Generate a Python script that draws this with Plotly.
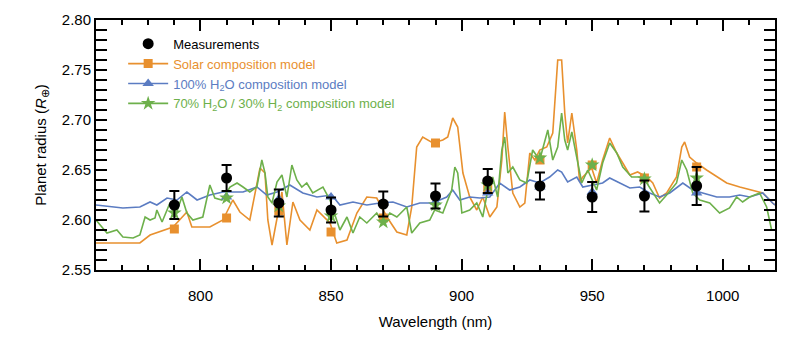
import plotly.graph_objects as go

# ---------------- data ----------------
solar_wl = [760.0, 776.8, 780.7, 789.5, 794.8, 796.7, 803.6, 808.6, 812.4, 815.1, 818.9, 822.8, 824.7,
            825.8, 827.4, 829.3, 831.2, 833.1, 835.4, 838.1, 841.9, 844.6, 849.6, 852.2, 856.1, 859.9,
            863.7, 867.5, 871.4, 875.2, 879.0, 880.9, 882.8, 885.1, 889.0, 892.8, 894.7, 896.6, 898.5,
            900.5, 903.1, 905.8, 908.1, 910.8, 913.5, 915.4, 916.5, 917.7, 919.6, 922.3, 924.2, 926.1,
            928.0, 929.9, 932.6, 934.9, 936.8, 938.3, 939.5, 940.6, 942.2, 944.1, 945.2, 946.4, 949.8,
            951.7, 954.0, 956.7, 959.4, 961.7, 964.4, 967.4, 970.9, 973.2, 975.8, 978.5, 982.3, 984.3,
            985.4, 987.3, 990.0, 993.8, 997.7, 1001.5, 1006.5, 1011.4, 1015.3, 1019.1, 1020.0]
solar_r = [2.577, 2.577, 2.585, 2.593, 2.608, 2.593, 2.593, 2.600, 2.620, 2.608, 2.600, 2.652, 2.647,
           2.600, 2.575, 2.603, 2.628, 2.575, 2.618, 2.600, 2.590, 2.610, 2.597, 2.577, 2.580, 2.607,
           2.623, 2.622, 2.603, 2.588, 2.585, 2.613, 2.673, 2.683, 2.677, 2.680, 2.683, 2.702, 2.693,
           2.647, 2.623, 2.610, 2.623, 2.603, 2.613, 2.660, 2.708, 2.673, 2.627, 2.613, 2.617, 2.667,
           2.660, 2.670, 2.673, 2.687, 2.760, 2.760, 2.707, 2.677, 2.707, 2.670, 2.638, 2.643, 2.652,
           2.637, 2.660, 2.682, 2.667, 2.657, 2.645, 2.648, 2.643, 2.637, 2.622, 2.627, 2.643, 2.673,
           2.678, 2.663, 2.657, 2.650, 2.643, 2.637, 2.633, 2.630, 2.627, 2.617, 2.615]

water_wl = [760.0, 770.3, 776.8, 780.7, 783.3, 787.2, 791.0, 794.8, 798.7, 803.6, 808.6, 812.4, 816.3,
            821.6, 825.4, 829.3, 834.2, 839.2, 844.6, 850.3, 853.4, 858.4, 863.7, 868.7, 873.7, 879.0,
            884.0, 889.0, 894.3, 896.6, 899.3, 903.1, 907.0, 910.8, 914.6, 918.4, 922.3, 926.1, 929.9,
            933.7, 936.8, 938.3, 940.6, 944.1, 946.4, 950.2, 954.0, 956.7, 960.5, 964.4, 968.2, 972.0,
            975.8, 979.7, 984.7, 988.5, 992.3, 997.7, 1002.6, 1006.5, 1010.3, 1015.3, 1019.1, 1020.0]
water_r = [2.615, 2.612, 2.613, 2.618, 2.615, 2.622, 2.620, 2.628, 2.620, 2.625, 2.628, 2.628, 2.628,
           2.633, 2.625, 2.628, 2.635, 2.627, 2.623, 2.625, 2.615, 2.618, 2.615, 2.617, 2.618, 2.613,
           2.617, 2.617, 2.623, 2.630, 2.620, 2.623, 2.622, 2.623, 2.637, 2.630, 2.633, 2.640, 2.637,
           2.643, 2.650, 2.648, 2.638, 2.643, 2.633, 2.635, 2.637, 2.642, 2.637, 2.632, 2.633, 2.627,
           2.623, 2.627, 2.637, 2.630, 2.627, 2.623, 2.623, 2.625, 2.623, 2.627, 2.617, 2.615]

mix_wl = [760.0, 764.2, 768.0, 770.3, 774.2, 776.8, 778.8, 780.7, 782.6, 783.3, 785.3, 788.3, 790.2,
          792.9, 794.8, 797.1, 800.9, 803.6, 805.5, 808.2, 811.3, 814.0, 816.3, 818.9, 821.6, 823.5,
          824.7, 825.8, 827.4, 829.3, 831.2, 833.1, 835.0, 836.9, 838.8, 840.7, 843.0, 846.9, 849.6,
          853.4, 856.1, 858.4, 861.0, 863.7, 867.5, 869.8, 872.5, 875.2, 879.0, 880.9, 884.0, 887.8,
          889.7, 892.8, 896.2, 897.4, 898.5, 900.1, 903.1, 905.8, 908.1, 910.0, 911.9, 913.8, 915.4,
          916.5, 917.7, 919.6, 922.3, 924.9, 927.2, 929.9, 933.0, 934.9, 936.8, 938.3, 939.5, 940.6,
          942.2, 944.1, 946.0, 948.3, 951.7, 954.0, 956.7, 959.4, 961.7, 965.1, 968.2, 970.9, 973.2,
          975.8, 978.5, 982.3, 984.3, 986.2, 988.5, 991.2, 995.0, 998.8, 1002.6, 1005.3, 1007.6,
          1010.3, 1014.1, 1016.8, 1018.7, 1020.0]
mix_r = [2.600, 2.587, 2.590, 2.583, 2.582, 2.585, 2.603, 2.600, 2.602, 2.610, 2.598, 2.617, 2.603,
         2.623, 2.607, 2.600, 2.603, 2.635, 2.622, 2.620, 2.633, 2.637, 2.633, 2.628, 2.633, 2.660,
         2.647, 2.623, 2.617, 2.638, 2.645, 2.623, 2.655, 2.640, 2.633, 2.637, 2.627, 2.633, 2.620,
         2.590, 2.603, 2.587, 2.603, 2.597, 2.607, 2.597, 2.607, 2.603, 2.613, 2.587, 2.597, 2.600,
         2.610, 2.607, 2.630, 2.653, 2.647, 2.607, 2.610, 2.617, 2.603, 2.630, 2.643, 2.623, 2.670,
         2.683, 2.647, 2.653, 2.640, 2.637, 2.670, 2.660, 2.690, 2.660, 2.673, 2.707, 2.680, 2.670,
         2.688, 2.663, 2.637, 2.650, 2.630, 2.657, 2.677, 2.667, 2.653, 2.643, 2.643, 2.637, 2.627,
         2.617, 2.625, 2.637, 2.660, 2.650, 2.627, 2.620, 2.617, 2.607, 2.612, 2.623, 2.618,
         2.623, 2.627, 2.613, 2.590, 2.590]

bin_wl = [790, 810, 830, 850, 870, 890, 910, 930, 950, 970, 990]
meas_r = [2.615, 2.642, 2.617, 2.610, 2.616, 2.624, 2.639, 2.634, 2.623, 2.624, 2.634]
meas_err = [0.014, 0.013, 0.0135, 0.0125, 0.0125, 0.0125, 0.012, 0.0135, 0.015, 0.0155, 0.019]
solar_bin = [2.591, 2.602, 2.609, 2.588, 2.602, 2.677, 2.631, 2.660, 2.655, 2.642, 2.653]
water_bin = [2.617, 2.623, 2.621, 2.623, 2.617, 2.618, 2.627, 2.633, 2.628, 2.627, 2.627]
mix_bin = [2.607, 2.622, 2.614, 2.604, 2.598, 2.615, 2.635, 2.662, 2.655, 2.641, 2.642]

x_range = [760, 1020]
y_range = [2.55, 2.80]

ORANGE = "#E8902E"
BLUE = "#5B7CC2"
GREEN = "#6DB04B"
FONT = "Liberation Sans, Arial, sans-serif"

names = ["Measurements",
         "Solar composition model",
         "100% H<sub>2</sub>O composition model",
         "70% H<sub>2</sub>O / 30% H<sub>2</sub> composition model"]

fig = go.Figure()

# model spectra
for wl, r, c in [(solar_wl, solar_r, ORANGE), (water_wl, water_r, BLUE), (mix_wl, mix_r, GREEN)]:
    fig.add_trace(go.Scatter(x=wl, y=r, mode="lines", line=dict(color=c, width=1.6),
                             showlegend=False, hoverinfo="skip"))

# binned model markers
fig.add_trace(go.Scatter(x=bin_wl, y=solar_bin, mode="markers",
                         marker=dict(symbol="square", size=9, color=ORANGE), showlegend=False))
fig.add_trace(go.Scatter(x=bin_wl, y=water_bin, mode="markers",
                         marker=dict(symbol="triangle-up", size=10, color=BLUE), showlegend=False))
fig.add_trace(go.Scatter(x=bin_wl, y=mix_bin, mode="markers",
                         marker=dict(symbol="star", size=11, color=GREEN), showlegend=False))

# measurements
fig.add_trace(go.Scatter(x=bin_wl, y=meas_r, mode="markers",
                         marker=dict(symbol="circle", size=11, color="black"),
                         error_y=dict(type="data", array=meas_err, color="black", thickness=2, width=5),
                         showlegend=False))

# invisible trace attached to the label-only x axis
fig.add_trace(go.Scatter(x=x_range, y=y_range, xaxis="x2", yaxis="y", mode="markers",
                         marker=dict(opacity=0), showlegend=False, hoverinfo="skip"))

# legend entries
fig.add_trace(go.Scatter(x=[None], y=[None], mode="markers", name=names[0],
                         marker=dict(symbol="circle", size=11, color="black"), legendrank=1))
for i, (c, sym, sz) in enumerate([(ORANGE, "square", 9), (BLUE, "triangle-up", 10), (GREEN, "star", 11)]):
    fig.add_trace(go.Scatter(x=[None], y=[None], mode="lines+markers",
                             name='<span style="color:%s">%s</span>' % (c, names[i + 1]),
                             line=dict(color=c, width=1.6),
                             marker=dict(symbol=sym, size=sz, color=c), legendrank=i + 2))

tfont = dict(family=FONT, size=15, color="black")

fig.update_layout(
    width=800, height=342,
    margin=dict(l=96, r=25, t=20, b=72),
    plot_bgcolor="white", paper_bgcolor="white",
    showlegend=True,
    xaxis=dict(range=x_range, tick0=800, dtick=50,
               ticks="inside", ticklen=11, tickwidth=2, tickcolor="black",
               minor=dict(dtick=10, ticks="inside", ticklen=5, tickwidth=2, tickcolor="black"),
               showline=True, linecolor="black", linewidth=2, mirror="allticks",
               showgrid=False, zeroline=False, showticklabels=False),
    # label-only axis: transparent outside ticks push the labels down
    xaxis2=dict(range=x_range, overlaying="x", side="bottom", anchor="y", tick0=800, dtick=50,
                ticks="outside", ticklen=12, tickcolor="rgba(0,0,0,0)",
                showline=False, showgrid=False, zeroline=False,
                title=dict(text="Wavelength (nm)", standoff=13, font=tfont),
                tickfont=tfont),
    yaxis=dict(range=y_range, tick0=2.55, dtick=0.05, tickformat=".2f",
               ticks="inside", ticklen=11, tickwidth=2, tickcolor="black",
               minor=dict(dtick=0.01, ticks="inside", ticklen=6, tickwidth=2, tickcolor="black"),
               showline=True, linecolor="black", linewidth=2, mirror="allticks",
               showgrid=False, zeroline=False,
               title=dict(text="Planet radius (<i>R</i><sub>⊕</sub>)", standoff=12, font=tfont),
               tickfont=tfont),
    legend=dict(x=0.04, y=0.965, xanchor="left", yanchor="top", bgcolor="rgba(0,0,0,0)",
                font=dict(family=FONT, size=13, color="black"),
                tracegroupgap=0, itemwidth=40),
)

fig.write_html("out.html")
